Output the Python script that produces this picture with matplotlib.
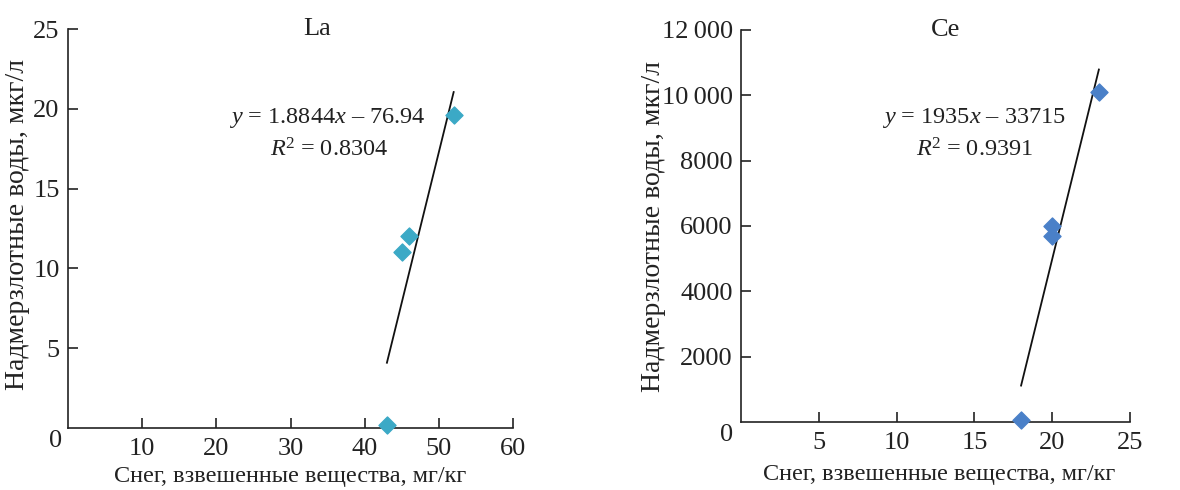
import matplotlib
matplotlib.use("Agg")
import matplotlib.pyplot as plt
import numpy as np

plt.rcParams['font.family'] = ['Liberation Serif', 'DejaVu Serif']
plt.rcParams['mathtext.fontset'] = 'custom'
plt.rcParams['mathtext.rm'] = 'Liberation Serif'
plt.rcParams['mathtext.it'] = 'Liberation Serif:italic'

# Data
la_x = [43, 45, 46, 52]
la_y = [0.2, 11, 12, 19.6]
la_slope, la_intercept = 1.8844, -76.94
la_eq = r"$y$ = 1.8844$x$ – 76.94"
la_r2 = "0.8304"

ce_x = [18, 20, 20, 23]
ce_y = [50, 5700, 6000, 10100]
ce_slope, ce_intercept = 1935, -33715
ce_eq = r"$y$ = 1935$x$ – 33715"
ce_r2 = "0.9391"

la_xticks = [10, 20, 30, 40, 50, 60]
la_yticks = [5, 10, 15, 20, 25]
ce_xticks = [5, 10, 15, 20, 25]
ce_yticks = [2000, 4000, 6000, 8000, 10000, 12000]
ce_ytick_labels = ["2000", "4000", "6000", "8000", "10\u2009000", "12\u2009000"]

xlabel = "Снег, взвешенные вещества, мг/кг"
ylabel = "Надмерзлотные воды, мкг/л"

FS = 19
FS_XL = 17.5
FS_YL = 20
FS_EQ = 17.5
TXT = '#222222'

fig = plt.figure(figsize=(11.8, 4.9), dpi=100)
ax1 = fig.add_axes([68/1180, 1-428/490, (513-68)/1180, (428-29)/490])
ax2 = fig.add_axes([741/1180, 1-422/490, (1130-741)/1180, (422-30)/490])


def style(ax):
    for s in ['top', 'right']:
        ax.spines[s].set_visible(False)
    for s in ['left', 'bottom']:
        ax.spines[s].set_linewidth(1.2)
        ax.spines[s].set_color(TXT)
    ax.tick_params(direction='in', length=7, width=1.2, color=TXT,
                   labelsize=FS, labelcolor=TXT)
    ax.tick_params(axis='x', pad=7)
    ax.tick_params(axis='y', pad=6)


# Left panel
style(ax1)
ax1.set_xlim(0, 60)
ax1.set_ylim(0, 25)
ax1.set_xticks(la_xticks)
ax1.set_yticks(la_yticks)
ax1.scatter(la_x, la_y, marker='D', s=75, color='#3BA9C6', zorder=3, clip_on=False)
fx = np.array([min(la_x), max(la_x)])
ax1.plot(fx, la_slope*fx + la_intercept, color='#111111', lw=1.3, zorder=2)
ax1.text(-0.013, -0.005, "0", transform=ax1.transAxes, ha='right', va='top',
         fontsize=FS, color=TXT)
ax1.text(0.56, 1.0, "La", transform=ax1.transAxes, ha='center', va='center',
         fontsize=FS, color=TXT)
ax1.text(0.583, 0.777, la_eq, transform=ax1.transAxes,
         ha='center', va='center', fontsize=FS_EQ, color=TXT)
ax1.text(0.586, 0.697, r"$R$$^2$ = " + la_r2, transform=ax1.transAxes,
         ha='center', va='center', fontsize=FS_EQ, color=TXT)
ax1.set_xlabel(xlabel, fontsize=FS_XL, color=TXT)
ax1.xaxis.label.set_va('center')
ax1.xaxis.set_label_coords(0.5, -48/399)
ax1.set_ylabel(ylabel, fontsize=FS_YL, color=TXT)
ax1.yaxis.label.set_va('center')
ax1.yaxis.set_label_coords((18-68)/445, 0.51)

# Right panel
style(ax2)
ax2.set_xlim(0, 25)
ax2.set_ylim(0, 12000)
ax2.set_xticks(ce_xticks)
ax2.set_yticks(ce_yticks)
ax2.set_yticklabels(ce_ytick_labels)
ax2.scatter(ce_x, ce_y, marker='D', s=75, color='#4A80C8', zorder=3, clip_on=False)
fx = np.array([min(ce_x), max(ce_x)])
ax2.plot(fx, ce_slope*fx + ce_intercept, color='#111111', lw=1.3, zorder=2)
ax2.text(-0.02, -0.005, "0", transform=ax2.transAxes, ha='right', va='top',
         fontsize=FS, color=TXT)
ax2.text(0.525, 1.0, "Ce", transform=ax2.transAxes, ha='center', va='center',
         fontsize=FS, color=TXT)
ax2.text(0.599, 0.776, ce_eq, transform=ax2.transAxes,
         ha='center', va='center', fontsize=FS_EQ, color=TXT)
ax2.text(0.601, 0.694, r"$R$$^2$ = " + ce_r2, transform=ax2.transAxes,
         ha='center', va='center', fontsize=FS_EQ, color=TXT)
ax2.set_xlabel(xlabel, fontsize=FS_XL, color=TXT)
ax2.xaxis.label.set_va('center')
ax2.xaxis.set_label_coords(0.51, -52/392)
ax2.set_ylabel(ylabel, fontsize=FS_YL, color=TXT)
ax2.yaxis.label.set_va('center')
ax2.yaxis.set_label_coords((654-741)/389, 0.5)

fig.savefig("out.png", dpi=100)
